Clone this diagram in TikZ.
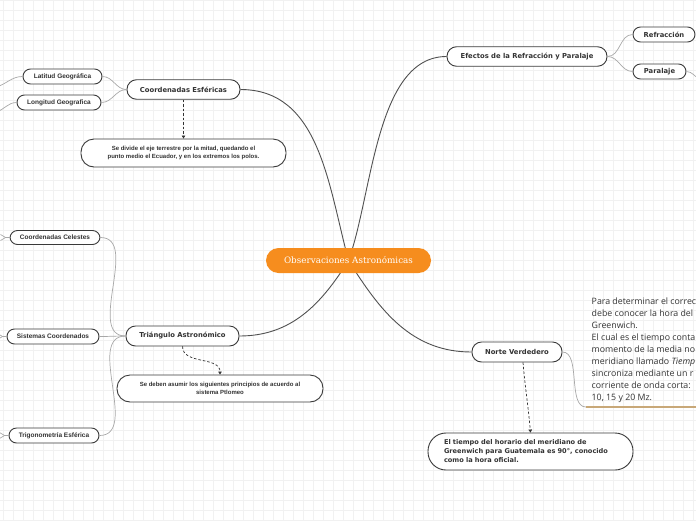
\documentclass[tikz,border=0pt]{standalone}
\usepackage{fontspec}
\setmainfont{Liberation Sans}
\newfontfamily\widefont{DejaVu Sans}
\newfontfamily\titlefont{DejaVu Serif}
\newfontfamily\notefont{Open Sans}
\usetikzlibrary{arrows.meta,backgrounds}
\definecolor{ink}{HTML}{333333}
\definecolor{edge}{HTML}{3A3A3A}
\definecolor{mainline}{HTML}{505050}
\definecolor{subline}{HTML}{A8A8A8}
\definecolor{coreorange}{HTML}{F68D1E}
\definecolor{tanline}{HTML}{C8A878}
\definecolor{gridgray}{HTML}{F1F1F1}
\newcommand{\leaffont}{\bfseries\fontsize{6.5}{7.6}\selectfont}
\newcommand{\memofont}{\bfseries\fontsize{6}{7.6}\selectfont}
\newcommand{\branchfont}{\widefont\bfseries\fontsize{6.8}{8}\selectfont}
\tikzset{
 every node/.append style={text=ink,align=center},
 pill/.style={draw=edge,fill=white,line width=.9pt,inner sep=1pt,minimum height=15pt,rounded corners=7.5pt},
 core/.style={fill=coreorange,rounded corners=12.5pt,text=white,minimum width=165pt,minimum height=25pt,font=\titlefont\fontsize{8.8}{10}\selectfont},
 branch/.style={pill,minimum height=19.5pt,rounded corners=9.5pt,font=\branchfont},
 twig/.style={pill,font=\branchfont},
 leaf/.style={pill,font=\leaffont},
 memo/.style={pill,minimum height=27pt,rounded corners=13pt,font=\memofont},
 note/.style={inner sep=0pt,align=left,font=\notefont\fontsize{8.8}{12}\selectfont},
 link/.style={draw=mainline,line width=.9pt},
 sublink/.style={draw=subline,line width=.7pt},
 hint/.style={-{Triangle[length=3pt,width=3.5pt]},draw=ink,line width=.7pt,dash pattern=on 2.5pt off 2pt},
 underline/.style={draw=tanline,line width=1.3pt},
 gridline/.style={draw=gridgray,line width=.5pt},
}

\begin{document}
\begin{tikzpicture}[x=1pt,y=-1pt]

\useasboundingbox (0,0) rectangle (696,520);
\node[core] (obs) at (348.5,260.5) {Observaciones Astronómicas};
\node[branch,minimum width=113pt] (esf) at (183.5,89.5) {Coordenadas Esféricas};
\node[leaf,minimum width=79pt] (lat) at (62.5,76.5) {Latitud Geográfica};
\node[leaf,minimum width=84pt] (lon) at (59,102.5) {Longitud Geografica};
\node[memo,minimum width=205pt,minimum height=28pt] (mitad) at (183.5,153) {Se divide el eje terrestre por la mitad, quedando el\\punto medio el Ecuador, y en los extremos los polos.};
\node[branch,minimum width=160pt] (efe) at (527,56.5) {Efectos de la Refracción y Paralaje};
\node[twig,minimum width=62pt] (refr) at (664,34.5) {Refracción};
\node[twig,minimum width=53pt] (para) at (659.5,71.5) {Paralaje};
\node[leaf,minimum width=90pt,minimum height=14pt] (cel) at (55,237.5) {Coordenadas Celestes};
\node[leaf,minimum width=92pt] (sis) at (53,336.5) {Sistemas Coordenados};
\node[leaf,minimum width=90pt] (trig) at (54,435.5) {Trigonometría Esférica};
\node[branch,minimum width=113pt,minimum height=20pt] (tri) at (182.5,336) {Triángulo Astronómico};
\node[memo,minimum width=206pt] (ptol) at (220,388.5) {Se deben asumir los siguientes principios de acuerdo al\\sistema Ptlomeo};
\node[branch,minimum width=90pt,minimum height=20pt] (norte) at (517,352) {Norte Verdedero};
\node[memo,minimum width=205pt,minimum height=37pt,rounded corners=18pt,font=\branchfont\fontsize{6.6}{9}\selectfont,text width=173pt,align=left] (hora) at (530.5,451.5) {El tiempo del horario del meridiano de\\Greenwich para Guatemala es 90°, conocido\\como la hora oficial.};
\node[note,anchor=north west] (det) at (591.5,297.5) {Para determinar el correc\\debe conocer la hora del\\Greenwich.\\El cual es el tiempo conta\\momento de la media no\\meridiano llamado \textit{Tiemp}\\sincroniza mediante un r\\corriente de onda corta:\\10, 15 y 20 Mz.};
\coordinate (detfoot) at (586,407);
\coordinate (detend) at (700,407);
% free ends that leave the page
\coordinate (latoff) at (-4,87);
\coordinate (lonoff) at (-4,112);
\coordinate (paraoff) at (700,79);

\begin{scope}[on background layer]
\foreach \gx in {3,13,...,693} \draw[gridline] (\gx,0) -- (\gx,520);
\foreach \gy in {0,10,...,520} \draw[gridline] (0,\gy) -- (696,\gy);
\draw[link] (obs.center) to[out=105,in=0] (esf.east);
\draw[link] (obs.center) to[out=70,in=180,looseness=.8] (efe.west);
\draw[link] (obs.center) to[out=-122,in=0] (tri.east);
\draw[link] (obs.center) to[out=-58,in=180] (norte.west);
\end{scope}

\draw[sublink] (esf.west) to[out=180,in=0] (lat.east);
\draw[sublink] (esf.west) to[out=180,in=0] (lon.east);
\draw[sublink] (lat.west) to[out=180,in=15] (latoff);
\draw[sublink] (lon.west) to[out=180,in=15] (lonoff);
\draw[sublink] (efe.east) to[out=0,in=180] (refr.west);
\draw[sublink] (efe.east) to[out=0,in=180] (para.west);
\draw[sublink] (para.east) to[out=0,in=160] (paraoff);
\draw[sublink] (tri.west) to[out=180,in=0] (cel.east);
\draw[sublink] (tri.west) to[out=180,in=0] (sis.east);
\draw[sublink] (tri.west) to[out=180,in=0] (trig.east);
\foreach \leafnode in {cel,sis,trig} {
 \draw[sublink] (\leafnode.west) -- ++(-4,0) -- ++(-5,-3);
 \draw[sublink] (\leafnode.west) -- ++(-4,0) -- ++(-5,3);
}
\draw[sublink] (norte.east) to[out=0,in=180,looseness=.8] (detfoot);
\draw[underline] (detfoot) -- (detend);
\draw[hint] (esf.south) -- (mitad.north);
\draw[hint] (tri.south) to[out=-90,in=90] (ptol.north);
\draw[hint] ([xshift=6pt]norte.south) to[out=-85,in=95] (hora.north);

\end{tikzpicture}
\end{document}
